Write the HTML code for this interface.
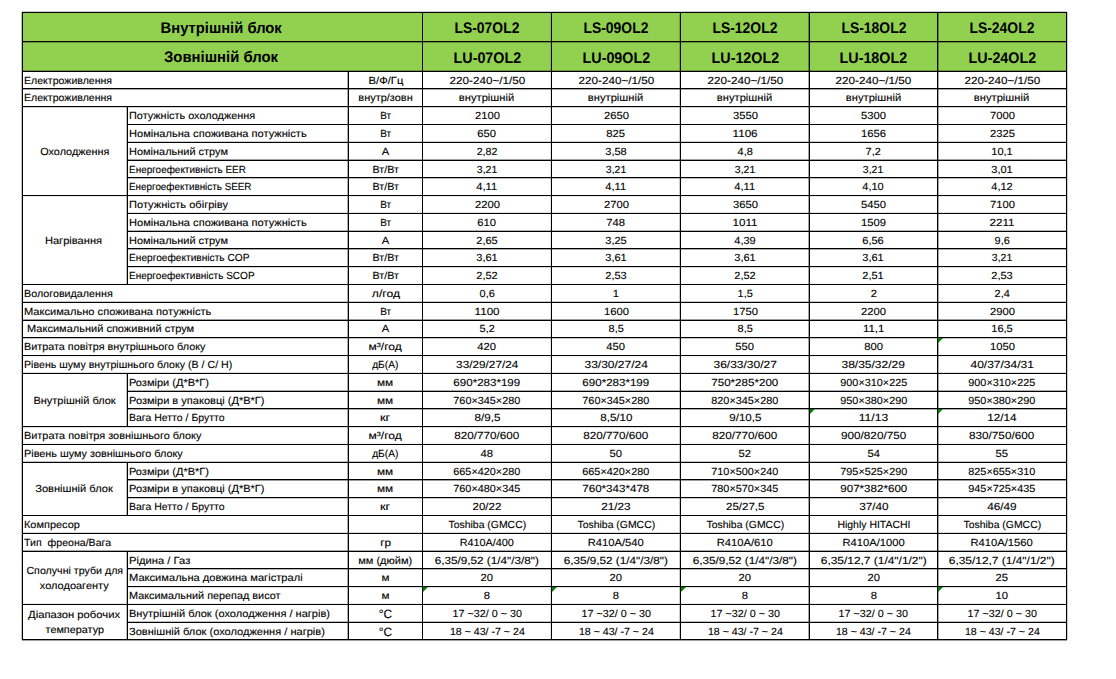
<!DOCTYPE html><html lang="uk"><head><meta charset="utf-8"><title>Технічні характеристики LS/LU-OL2</title><style>
html,body{margin:0;padding:0;background:#fff;}
body{width:1116px;height:679px;position:relative;overflow:hidden;font-family:"Liberation Sans", sans-serif;color:#000;}
.l{position:absolute;background:#000;}
.g{position:absolute;background:#92d050;}
.b{position:absolute;}
.t{position:absolute;white-space:nowrap;font-size:10.3px;line-height:0;height:0;}
.t span{display:inline-block;line-height:0;text-rendering:geometricPrecision;-webkit-text-stroke:0.12px #000;}
.h{font-size:15.4px;font-weight:bold;}
.h span{-webkit-text-stroke:0px #000;text-rendering:geometricPrecision;}
.deg{font-size:12.0px;font-family:"Liberation Sans",sans-serif;}
.c{text-align:center;}
.c span{transform-origin:50% 50%;}
.s span{transform-origin:0 50%;}
.tri{position:absolute;width:0;height:0;border-top:5px solid #008000;border-right:5px solid transparent;}
</style></head><body>
<div class="g" style="left:22px;top:12px;width:1045px;height:60px"></div>
<div class="l" style="left:22px;top:12px;width:1045px;height:1px"></div>
<div class="b" style="left:22px;top:11px;width:1045px;height:1px;background:rgba(0,0,0,0.20)"></div>
<div class="l" style="left:22px;top:41px;width:1045px;height:1px"></div>
<div class="b" style="left:22px;top:42px;width:1045px;height:1px;background:rgba(0,0,0,0.30)"></div>
<div class="l" style="left:22px;top:71px;width:1045px;height:1px"></div>
<div class="b" style="left:22px;top:70px;width:1045px;height:1px;background:rgba(0,0,0,0.27)"></div>
<div class="l" style="left:22px;top:88px;width:1045px;height:1px"></div>
<div class="b" style="left:22px;top:89px;width:1045px;height:1px;background:rgba(0,0,0,0.35)"></div>
<div class="l" style="left:22px;top:106px;width:1045px;height:1px"></div>
<div class="b" style="left:22px;top:107px;width:1045px;height:1px;background:rgba(0,0,0,0.17)"></div>
<div class="l" style="left:127px;top:124px;width:940px;height:1px"></div>
<div class="l" style="left:127px;top:142px;width:940px;height:1px"></div>
<div class="b" style="left:127px;top:141px;width:940px;height:1px;background:rgba(0,0,0,0.19)"></div>
<div class="l" style="left:127px;top:160px;width:940px;height:1px"></div>
<div class="b" style="left:127px;top:159px;width:940px;height:1px;background:rgba(0,0,0,0.37)"></div>
<div class="l" style="left:127px;top:177px;width:940px;height:1px"></div>
<div class="b" style="left:127px;top:178px;width:940px;height:1px;background:rgba(0,0,0,0.25)"></div>
<div class="l" style="left:22px;top:195px;width:1045px;height:1px"></div>
<div class="b" style="left:22px;top:196px;width:1045px;height:1px;background:rgba(0,0,0,0.07)"></div>
<div class="l" style="left:127px;top:213px;width:940px;height:1px"></div>
<div class="b" style="left:127px;top:212px;width:940px;height:1px;background:rgba(0,0,0,0.11)"></div>
<div class="l" style="left:127px;top:231px;width:940px;height:1px"></div>
<div class="b" style="left:127px;top:230px;width:940px;height:1px;background:rgba(0,0,0,0.29)"></div>
<div class="l" style="left:127px;top:248px;width:940px;height:1px"></div>
<div class="b" style="left:127px;top:249px;width:940px;height:1px;background:rgba(0,0,0,0.33)"></div>
<div class="l" style="left:127px;top:266px;width:940px;height:1px"></div>
<div class="b" style="left:127px;top:267px;width:940px;height:1px;background:rgba(0,0,0,0.15)"></div>
<div class="l" style="left:22px;top:284px;width:1045px;height:1px"></div>
<div class="b" style="left:22px;top:283px;width:1045px;height:1px;background:rgba(0,0,0,0.03)"></div>
<div class="l" style="left:22px;top:302px;width:1045px;height:1px"></div>
<div class="b" style="left:22px;top:301px;width:1045px;height:1px;background:rgba(0,0,0,0.21)"></div>
<div class="l" style="left:22px;top:320px;width:1045px;height:1px"></div>
<div class="b" style="left:22px;top:319px;width:1045px;height:1px;background:rgba(0,0,0,0.39)"></div>
<div class="l" style="left:22px;top:337px;width:1045px;height:1px"></div>
<div class="b" style="left:22px;top:338px;width:1045px;height:1px;background:rgba(0,0,0,0.23)"></div>
<div class="l" style="left:22px;top:355px;width:1045px;height:1px"></div>
<div class="b" style="left:22px;top:356px;width:1045px;height:1px;background:rgba(0,0,0,0.05)"></div>
<div class="l" style="left:22px;top:373px;width:1045px;height:1px"></div>
<div class="b" style="left:22px;top:372px;width:1045px;height:1px;background:rgba(0,0,0,0.13)"></div>
<div class="l" style="left:127px;top:391px;width:940px;height:1px"></div>
<div class="b" style="left:127px;top:390px;width:940px;height:1px;background:rgba(0,0,0,0.31)"></div>
<div class="l" style="left:127px;top:408px;width:940px;height:1px"></div>
<div class="b" style="left:127px;top:409px;width:940px;height:1px;background:rgba(0,0,0,0.31)"></div>
<div class="l" style="left:22px;top:426px;width:1045px;height:1px"></div>
<div class="b" style="left:22px;top:427px;width:1045px;height:1px;background:rgba(0,0,0,0.13)"></div>
<div class="l" style="left:22px;top:444px;width:1045px;height:1px"></div>
<div class="b" style="left:22px;top:443px;width:1045px;height:1px;background:rgba(0,0,0,0.05)"></div>
<div class="l" style="left:22px;top:462px;width:1045px;height:1px"></div>
<div class="b" style="left:22px;top:461px;width:1045px;height:1px;background:rgba(0,0,0,0.23)"></div>
<div class="l" style="left:127px;top:479px;width:940px;height:1px"></div>
<div class="b" style="left:127px;top:480px;width:940px;height:1px;background:rgba(0,0,0,0.39)"></div>
<div class="l" style="left:127px;top:497px;width:940px;height:1px"></div>
<div class="b" style="left:127px;top:498px;width:940px;height:1px;background:rgba(0,0,0,0.21)"></div>
<div class="l" style="left:22px;top:515px;width:1045px;height:1px"></div>
<div class="l" style="left:22px;top:533px;width:1045px;height:1px"></div>
<div class="b" style="left:22px;top:532px;width:1045px;height:1px;background:rgba(0,0,0,0.15)"></div>
<div class="l" style="left:22px;top:551px;width:1045px;height:1px"></div>
<div class="b" style="left:22px;top:550px;width:1045px;height:1px;background:rgba(0,0,0,0.33)"></div>
<div class="l" style="left:127px;top:568px;width:940px;height:1px"></div>
<div class="b" style="left:127px;top:569px;width:940px;height:1px;background:rgba(0,0,0,0.29)"></div>
<div class="l" style="left:127px;top:586px;width:940px;height:1px"></div>
<div class="b" style="left:127px;top:587px;width:940px;height:1px;background:rgba(0,0,0,0.11)"></div>
<div class="l" style="left:22px;top:604px;width:1045px;height:1px"></div>
<div class="b" style="left:22px;top:603px;width:1045px;height:1px;background:rgba(0,0,0,0.07)"></div>
<div class="l" style="left:127px;top:622px;width:940px;height:1px"></div>
<div class="b" style="left:127px;top:621px;width:940px;height:1px;background:rgba(0,0,0,0.25)"></div>
<div class="l" style="left:22px;top:639px;width:1045px;height:1px"></div>
<div class="b" style="left:22px;top:640px;width:1045px;height:1px;background:rgba(0,0,0,0.37)"></div>
<div class="l" style="left:22px;top:12px;width:1px;height:628px"></div>
<div class="b" style="left:21px;top:12px;width:1px;height:628px;background:rgba(0,0,0,0.25)"></div>
<div class="l" style="left:1066px;top:12px;width:1px;height:628px"></div>
<div class="b" style="left:1067px;top:12px;width:1px;height:628px;background:rgba(0,0,0,0.20)"></div>
<div class="l" style="left:422px;top:12px;width:1px;height:628px"></div>
<div class="l" style="left:551px;top:12px;width:1px;height:628px"></div>
<div class="b" style="left:550px;top:12px;width:1px;height:628px;background:rgba(0,0,0,0.10)"></div>
<div class="l" style="left:680px;top:12px;width:1px;height:628px"></div>
<div class="b" style="left:679px;top:12px;width:1px;height:628px;background:rgba(0,0,0,0.20)"></div>
<div class="l" style="left:809px;top:12px;width:1px;height:628px"></div>
<div class="b" style="left:808px;top:12px;width:1px;height:628px;background:rgba(0,0,0,0.35)"></div>
<div class="l" style="left:937px;top:12px;width:1px;height:628px"></div>
<div class="b" style="left:938px;top:12px;width:1px;height:628px;background:rgba(0,0,0,0.35)"></div>
<div class="l" style="left:348px;top:71px;width:1px;height:569px"></div>
<div class="b" style="left:347px;top:71px;width:1px;height:569px;background:rgba(0,0,0,0.30)"></div>
<div class="l" style="left:127px;top:106px;width:1px;height:90px"></div>
<div class="b" style="left:126px;top:106px;width:1px;height:90px;background:rgba(0,0,0,0.25)"></div>
<div class="l" style="left:127px;top:195px;width:1px;height:90px"></div>
<div class="b" style="left:126px;top:195px;width:1px;height:90px;background:rgba(0,0,0,0.25)"></div>
<div class="l" style="left:127px;top:373px;width:1px;height:54px"></div>
<div class="b" style="left:126px;top:373px;width:1px;height:54px;background:rgba(0,0,0,0.25)"></div>
<div class="l" style="left:127px;top:462px;width:1px;height:54px"></div>
<div class="b" style="left:126px;top:462px;width:1px;height:54px;background:rgba(0,0,0,0.25)"></div>
<div class="l" style="left:127px;top:551px;width:1px;height:54px"></div>
<div class="b" style="left:126px;top:551px;width:1px;height:54px;background:rgba(0,0,0,0.25)"></div>
<div class="l" style="left:127px;top:604px;width:1px;height:36px"></div>
<div class="b" style="left:126px;top:604px;width:1px;height:36px;background:rgba(0,0,0,0.25)"></div>
<!-- head -->
<div class="t c h" style="left:221.10px;top:27.96px;width:0;"><div style="position:absolute;left:-300px;width:600px;text-align:center"><span style="transform:scaleX(0.9595)">Внутрішній блок</span></div></div>
<div class="t c h" style="left:221.10px;top:56.86px;width:0;"><div style="position:absolute;left:-300px;width:600px;text-align:center"><span style="transform:scaleX(0.9660)">Зовнішній блок</span></div></div>
<div class="t c h" style="left:487.00px;top:27.96px;width:0;"><div style="position:absolute;left:-300px;width:600px;text-align:center"><span style="transform:scaleX(0.9033)">LS-07OL2</span></div></div>
<div class="t c h" style="left:487.00px;top:57.86px;width:0;"><div style="position:absolute;left:-300px;width:600px;text-align:center"><span style="transform:scaleX(0.9284)">LU-07OL2</span></div></div>
<div class="t c h" style="left:616.00px;top:27.96px;width:0;"><div style="position:absolute;left:-300px;width:600px;text-align:center"><span style="transform:scaleX(0.9033)">LS-09OL2</span></div></div>
<div class="t c h" style="left:616.00px;top:57.86px;width:0;"><div style="position:absolute;left:-300px;width:600px;text-align:center"><span style="transform:scaleX(0.9284)">LU-09OL2</span></div></div>
<div class="t c h" style="left:745.00px;top:27.96px;width:0;"><div style="position:absolute;left:-300px;width:600px;text-align:center"><span style="transform:scaleX(0.9033)">LS-12OL2</span></div></div>
<div class="t c h" style="left:745.00px;top:57.86px;width:0;"><div style="position:absolute;left:-300px;width:600px;text-align:center"><span style="transform:scaleX(0.9284)">LU-12OL2</span></div></div>
<div class="t c h" style="left:873.50px;top:27.96px;width:0;"><div style="position:absolute;left:-300px;width:600px;text-align:center"><span style="transform:scaleX(0.9033)">LS-18OL2</span></div></div>
<div class="t c h" style="left:873.50px;top:57.86px;width:0;"><div style="position:absolute;left:-300px;width:600px;text-align:center"><span style="transform:scaleX(0.9284)">LU-18OL2</span></div></div>
<div class="t c h" style="left:1002.00px;top:27.96px;width:0;"><div style="position:absolute;left:-300px;width:600px;text-align:center"><span style="transform:scaleX(0.9033)">LS-24OL2</span></div></div>
<div class="t c h" style="left:1002.00px;top:57.86px;width:0;"><div style="position:absolute;left:-300px;width:600px;text-align:center"><span style="transform:scaleX(0.9284)">LU-24OL2</span></div></div>
<div class="t s " style="left:24.00px;top:80.63px;"><span style="transform:scaleX(1.0263)">Електроживлення</span></div>
<div class="t c " style="left:385.50px;top:80.63px;width:0;"><div style="position:absolute;left:-300px;width:600px;text-align:center"><span style="transform:scaleX(1.0907)">В/Ф/Гц</span></div></div>
<div class="t c " style="left:487.00px;top:80.63px;width:0;"><div style="position:absolute;left:-300px;width:600px;text-align:center"><span style="transform:scaleX(1.1346)">220-240~/1/50</span></div></div>
<div class="t c " style="left:616.00px;top:80.63px;width:0;"><div style="position:absolute;left:-300px;width:600px;text-align:center"><span style="transform:scaleX(1.1346)">220-240~/1/50</span></div></div>
<div class="t c " style="left:745.00px;top:80.63px;width:0;"><div style="position:absolute;left:-300px;width:600px;text-align:center"><span style="transform:scaleX(1.1346)">220-240~/1/50</span></div></div>
<div class="t c " style="left:873.50px;top:80.63px;width:0;"><div style="position:absolute;left:-300px;width:600px;text-align:center"><span style="transform:scaleX(1.1346)">220-240~/1/50</span></div></div>
<div class="t c " style="left:1002.00px;top:80.63px;width:0;"><div style="position:absolute;left:-300px;width:600px;text-align:center"><span style="transform:scaleX(1.1346)">220-240~/1/50</span></div></div>
<div class="t s " style="left:24.00px;top:98.40px;"><span style="transform:scaleX(1.0263)">Електроживлення</span></div>
<div class="t c " style="left:385.50px;top:98.40px;width:0;"><div style="position:absolute;left:-300px;width:600px;text-align:center"><span style="transform:scaleX(1.0644)">внутр/зовн</span></div></div>
<div class="t c " style="left:487.00px;top:98.40px;width:0;"><div style="position:absolute;left:-300px;width:600px;text-align:center"><span style="transform:scaleX(1.0836)">внутрішній</span></div></div>
<div class="t c " style="left:616.00px;top:98.40px;width:0;"><div style="position:absolute;left:-300px;width:600px;text-align:center"><span style="transform:scaleX(1.0836)">внутрішній</span></div></div>
<div class="t c " style="left:745.00px;top:98.40px;width:0;"><div style="position:absolute;left:-300px;width:600px;text-align:center"><span style="transform:scaleX(1.0836)">внутрішній</span></div></div>
<div class="t c " style="left:873.50px;top:98.40px;width:0;"><div style="position:absolute;left:-300px;width:600px;text-align:center"><span style="transform:scaleX(1.0836)">внутрішній</span></div></div>
<div class="t c " style="left:1002.00px;top:98.40px;width:0;"><div style="position:absolute;left:-300px;width:600px;text-align:center"><span style="transform:scaleX(1.0836)">внутрішній</span></div></div>
<div class="t s " style="left:129.00px;top:116.18px;"><span style="transform:scaleX(1.0579)">Потужність охолодження</span></div>
<div class="t c " style="left:385.50px;top:116.18px;width:0;"><div style="position:absolute;left:-300px;width:600px;text-align:center"><span style="transform:scaleX(0.9689)">Вт</span></div></div>
<div class="t c " style="left:487.00px;top:116.18px;width:0;"><div style="position:absolute;left:-300px;width:600px;text-align:center"><span style="transform:scaleX(1.0908)">2100</span></div></div>
<div class="t c " style="left:616.00px;top:116.18px;width:0;"><div style="position:absolute;left:-300px;width:600px;text-align:center"><span style="transform:scaleX(1.0908)">2650</span></div></div>
<div class="t c " style="left:745.00px;top:116.18px;width:0;"><div style="position:absolute;left:-300px;width:600px;text-align:center"><span style="transform:scaleX(1.0908)">3550</span></div></div>
<div class="t c " style="left:873.50px;top:116.18px;width:0;"><div style="position:absolute;left:-300px;width:600px;text-align:center"><span style="transform:scaleX(1.0908)">5300</span></div></div>
<div class="t c " style="left:1002.00px;top:116.18px;width:0;"><div style="position:absolute;left:-300px;width:600px;text-align:center"><span style="transform:scaleX(1.0908)">7000</span></div></div>
<div class="t s " style="left:129.00px;top:133.95px;"><span style="transform:scaleX(1.0757)">Номінальна споживана потужність</span></div>
<div class="t c " style="left:385.50px;top:133.95px;width:0;"><div style="position:absolute;left:-300px;width:600px;text-align:center"><span style="transform:scaleX(0.9689)">Вт</span></div></div>
<div class="t c " style="left:487.00px;top:133.95px;width:0;"><div style="position:absolute;left:-300px;width:600px;text-align:center"><span style="transform:scaleX(1.0911)">650</span></div></div>
<div class="t c " style="left:616.00px;top:133.95px;width:0;"><div style="position:absolute;left:-300px;width:600px;text-align:center"><span style="transform:scaleX(1.0911)">825</span></div></div>
<div class="t c " style="left:745.00px;top:133.95px;width:0;"><div style="position:absolute;left:-300px;width:600px;text-align:center"><span style="transform:scaleX(1.1285)">1106</span></div></div>
<div class="t c " style="left:873.50px;top:133.95px;width:0;"><div style="position:absolute;left:-300px;width:600px;text-align:center"><span style="transform:scaleX(1.0908)">1656</span></div></div>
<div class="t c " style="left:1002.00px;top:133.95px;width:0;"><div style="position:absolute;left:-300px;width:600px;text-align:center"><span style="transform:scaleX(1.0908)">2325</span></div></div>
<div class="t s " style="left:129.00px;top:151.73px;"><span style="transform:scaleX(1.0649)">Номінальний струм</span></div>
<div class="t c " style="left:385.50px;top:151.73px;width:0;"><div style="position:absolute;left:-300px;width:600px;text-align:center"><span style="transform:scaleX(1.0909)">А</span></div></div>
<div class="t c " style="left:487.00px;top:151.73px;width:0;"><div style="position:absolute;left:-300px;width:600px;text-align:center"><span style="transform:scaleX(1.0326)">2,82</span></div></div>
<div class="t c " style="left:616.00px;top:151.73px;width:0;"><div style="position:absolute;left:-300px;width:600px;text-align:center"><span style="transform:scaleX(1.0691)">3,58</span></div></div>
<div class="t c " style="left:745.00px;top:151.73px;width:0;"><div style="position:absolute;left:-300px;width:600px;text-align:center"><span style="transform:scaleX(1.0595)">4,8</span></div></div>
<div class="t c " style="left:873.50px;top:151.73px;width:0;"><div style="position:absolute;left:-300px;width:600px;text-align:center"><span style="transform:scaleX(1.0595)">7,2</span></div></div>
<div class="t c " style="left:1002.00px;top:151.73px;width:0;"><div style="position:absolute;left:-300px;width:600px;text-align:center"><span style="transform:scaleX(1.0691)">10,1</span></div></div>
<div class="t s " style="left:129.00px;top:169.50px;"><span style="transform:scaleX(0.9662)">Енергоефективність EER</span></div>
<div class="t c " style="left:385.50px;top:169.50px;width:0;"><div style="position:absolute;left:-300px;width:600px;text-align:center"><span style="transform:scaleX(1.0371)">Вт/Вт</span></div></div>
<div class="t c " style="left:487.00px;top:169.50px;width:0;"><div style="position:absolute;left:-300px;width:600px;text-align:center"><span style="transform:scaleX(1.0176)">3,21</span></div></div>
<div class="t c " style="left:616.00px;top:169.50px;width:0;"><div style="position:absolute;left:-300px;width:600px;text-align:center"><span style="transform:scaleX(1.0176)">3,21</span></div></div>
<div class="t c " style="left:745.00px;top:169.50px;width:0;"><div style="position:absolute;left:-300px;width:600px;text-align:center"><span style="transform:scaleX(1.0176)">3,21</span></div></div>
<div class="t c " style="left:873.50px;top:169.50px;width:0;"><div style="position:absolute;left:-300px;width:600px;text-align:center"><span style="transform:scaleX(1.0176)">3,21</span></div></div>
<div class="t c " style="left:1002.00px;top:169.50px;width:0;"><div style="position:absolute;left:-300px;width:600px;text-align:center"><span style="transform:scaleX(1.0691)">3,01</span></div></div>
<div class="t s " style="left:129.00px;top:187.28px;"><span style="transform:scaleX(0.9581)">Енергоефективність SEER</span></div>
<div class="t c " style="left:385.50px;top:187.28px;width:0;"><div style="position:absolute;left:-300px;width:600px;text-align:center"><span style="transform:scaleX(1.0371)">Вт/Вт</span></div></div>
<div class="t c " style="left:487.00px;top:187.28px;width:0;"><div style="position:absolute;left:-300px;width:600px;text-align:center"><span style="transform:scaleX(1.0840)">4,11</span></div></div>
<div class="t c " style="left:616.00px;top:187.28px;width:0;"><div style="position:absolute;left:-300px;width:600px;text-align:center"><span style="transform:scaleX(1.0840)">4,11</span></div></div>
<div class="t c " style="left:745.00px;top:187.28px;width:0;"><div style="position:absolute;left:-300px;width:600px;text-align:center"><span style="transform:scaleX(1.0840)">4,11</span></div></div>
<div class="t c " style="left:873.50px;top:187.28px;width:0;"><div style="position:absolute;left:-300px;width:600px;text-align:center"><span style="transform:scaleX(1.0691)">4,10</span></div></div>
<div class="t c " style="left:1002.00px;top:187.28px;width:0;"><div style="position:absolute;left:-300px;width:600px;text-align:center"><span style="transform:scaleX(1.0691)">4,12</span></div></div>
<div class="t s " style="left:129.00px;top:205.05px;"><span style="transform:scaleX(1.0757)">Потужність обігріву</span></div>
<div class="t c " style="left:385.50px;top:205.05px;width:0;"><div style="position:absolute;left:-300px;width:600px;text-align:center"><span style="transform:scaleX(0.9689)">Вт</span></div></div>
<div class="t c " style="left:487.00px;top:205.05px;width:0;"><div style="position:absolute;left:-300px;width:600px;text-align:center"><span style="transform:scaleX(1.0908)">2200</span></div></div>
<div class="t c " style="left:616.00px;top:205.05px;width:0;"><div style="position:absolute;left:-300px;width:600px;text-align:center"><span style="transform:scaleX(1.0908)">2700</span></div></div>
<div class="t c " style="left:745.00px;top:205.05px;width:0;"><div style="position:absolute;left:-300px;width:600px;text-align:center"><span style="transform:scaleX(1.0908)">3650</span></div></div>
<div class="t c " style="left:873.50px;top:205.05px;width:0;"><div style="position:absolute;left:-300px;width:600px;text-align:center"><span style="transform:scaleX(1.0908)">5450</span></div></div>
<div class="t c " style="left:1002.00px;top:205.05px;width:0;"><div style="position:absolute;left:-300px;width:600px;text-align:center"><span style="transform:scaleX(1.0908)">7100</span></div></div>
<div class="t s " style="left:129.00px;top:222.83px;"><span style="transform:scaleX(1.0757)">Номінальна споживана потужність</span></div>
<div class="t c " style="left:385.50px;top:222.83px;width:0;"><div style="position:absolute;left:-300px;width:600px;text-align:center"><span style="transform:scaleX(0.9689)">Вт</span></div></div>
<div class="t c " style="left:487.00px;top:222.83px;width:0;"><div style="position:absolute;left:-300px;width:600px;text-align:center"><span style="transform:scaleX(1.0911)">610</span></div></div>
<div class="t c " style="left:616.00px;top:222.83px;width:0;"><div style="position:absolute;left:-300px;width:600px;text-align:center"><span style="transform:scaleX(1.0911)">748</span></div></div>
<div class="t c " style="left:745.00px;top:222.83px;width:0;"><div style="position:absolute;left:-300px;width:600px;text-align:center"><span style="transform:scaleX(1.1285)">1011</span></div></div>
<div class="t c " style="left:873.50px;top:222.83px;width:0;"><div style="position:absolute;left:-300px;width:600px;text-align:center"><span style="transform:scaleX(1.0908)">1509</span></div></div>
<div class="t c " style="left:1002.00px;top:222.83px;width:0;"><div style="position:absolute;left:-300px;width:600px;text-align:center"><span style="transform:scaleX(1.1285)">2211</span></div></div>
<div class="t s " style="left:129.00px;top:240.60px;"><span style="transform:scaleX(1.0649)">Номінальний струм</span></div>
<div class="t c " style="left:385.50px;top:240.60px;width:0;"><div style="position:absolute;left:-300px;width:600px;text-align:center"><span style="transform:scaleX(1.0909)">А</span></div></div>
<div class="t c " style="left:487.00px;top:240.60px;width:0;"><div style="position:absolute;left:-300px;width:600px;text-align:center"><span style="transform:scaleX(1.0691)">2,65</span></div></div>
<div class="t c " style="left:616.00px;top:240.60px;width:0;"><div style="position:absolute;left:-300px;width:600px;text-align:center"><span style="transform:scaleX(1.0691)">3,25</span></div></div>
<div class="t c " style="left:745.00px;top:240.60px;width:0;"><div style="position:absolute;left:-300px;width:600px;text-align:center"><span style="transform:scaleX(1.0691)">4,39</span></div></div>
<div class="t c " style="left:873.50px;top:240.60px;width:0;"><div style="position:absolute;left:-300px;width:600px;text-align:center"><span style="transform:scaleX(1.0691)">6,56</span></div></div>
<div class="t c " style="left:1002.00px;top:240.60px;width:0;"><div style="position:absolute;left:-300px;width:600px;text-align:center"><span style="transform:scaleX(1.0595)">9,6</span></div></div>
<div class="t s " style="left:129.00px;top:258.38px;"><span style="transform:scaleX(0.9859)">Енергоефективність COP</span></div>
<div class="t c " style="left:385.50px;top:258.38px;width:0;"><div style="position:absolute;left:-300px;width:600px;text-align:center"><span style="transform:scaleX(1.0371)">Вт/Вт</span></div></div>
<div class="t c " style="left:487.00px;top:258.38px;width:0;"><div style="position:absolute;left:-300px;width:600px;text-align:center"><span style="transform:scaleX(1.0691)">3,61</span></div></div>
<div class="t c " style="left:616.00px;top:258.38px;width:0;"><div style="position:absolute;left:-300px;width:600px;text-align:center"><span style="transform:scaleX(1.0691)">3,61</span></div></div>
<div class="t c " style="left:745.00px;top:258.38px;width:0;"><div style="position:absolute;left:-300px;width:600px;text-align:center"><span style="transform:scaleX(1.0691)">3,61</span></div></div>
<div class="t c " style="left:873.50px;top:258.38px;width:0;"><div style="position:absolute;left:-300px;width:600px;text-align:center"><span style="transform:scaleX(1.0691)">3,61</span></div></div>
<div class="t c " style="left:1002.00px;top:258.38px;width:0;"><div style="position:absolute;left:-300px;width:600px;text-align:center"><span style="transform:scaleX(1.0176)">3,21</span></div></div>
<div class="t s " style="left:129.00px;top:276.15px;"><span style="transform:scaleX(0.9736)">Енергоефективність SCOP</span></div>
<div class="t c " style="left:385.50px;top:276.15px;width:0;"><div style="position:absolute;left:-300px;width:600px;text-align:center"><span style="transform:scaleX(1.0371)">Вт/Вт</span></div></div>
<div class="t c " style="left:487.00px;top:276.15px;width:0;"><div style="position:absolute;left:-300px;width:600px;text-align:center"><span style="transform:scaleX(1.0691)">2,52</span></div></div>
<div class="t c " style="left:616.00px;top:276.15px;width:0;"><div style="position:absolute;left:-300px;width:600px;text-align:center"><span style="transform:scaleX(1.0691)">2,53</span></div></div>
<div class="t c " style="left:745.00px;top:276.15px;width:0;"><div style="position:absolute;left:-300px;width:600px;text-align:center"><span style="transform:scaleX(1.0691)">2,52</span></div></div>
<div class="t c " style="left:873.50px;top:276.15px;width:0;"><div style="position:absolute;left:-300px;width:600px;text-align:center"><span style="transform:scaleX(1.0691)">2,51</span></div></div>
<div class="t c " style="left:1002.00px;top:276.15px;width:0;"><div style="position:absolute;left:-300px;width:600px;text-align:center"><span style="transform:scaleX(1.0691)">2,53</span></div></div>
<div class="t s " style="left:24.00px;top:293.93px;"><span style="transform:scaleX(1.0420)">Вологовидалення</span></div>
<div class="t c " style="left:385.50px;top:293.93px;width:0;"><div style="position:absolute;left:-300px;width:600px;text-align:center"><span style="transform:scaleX(1.1788)">л/год</span></div></div>
<div class="t c " style="left:487.00px;top:293.93px;width:0;"><div style="position:absolute;left:-300px;width:600px;text-align:center"><span style="transform:scaleX(1.0595)">0,6</span></div></div>
<div class="t c " style="left:616.00px;top:293.93px;width:0;"><div style="position:absolute;left:-300px;width:600px;text-align:center"><span style="transform:scaleX(1.0901)">1</span></div></div>
<div class="t c " style="left:745.00px;top:293.93px;width:0;"><div style="position:absolute;left:-300px;width:600px;text-align:center"><span style="transform:scaleX(1.0595)">1,5</span></div></div>
<div class="t c " style="left:873.50px;top:293.93px;width:0;"><div style="position:absolute;left:-300px;width:600px;text-align:center"><span style="transform:scaleX(1.0901)">2</span></div></div>
<div class="t c " style="left:1002.00px;top:293.93px;width:0;"><div style="position:absolute;left:-300px;width:600px;text-align:center"><span style="transform:scaleX(1.0595)">2,4</span></div></div>
<div class="t s " style="left:24.00px;top:311.70px;"><span style="transform:scaleX(1.0764)">Максимально споживана потужність</span></div>
<div class="t c " style="left:385.50px;top:311.70px;width:0;"><div style="position:absolute;left:-300px;width:600px;text-align:center"><span style="transform:scaleX(0.9689)">Вт</span></div></div>
<div class="t c " style="left:487.00px;top:311.70px;width:0;"><div style="position:absolute;left:-300px;width:600px;text-align:center"><span style="transform:scaleX(1.1285)">1100</span></div></div>
<div class="t c " style="left:616.00px;top:311.70px;width:0;"><div style="position:absolute;left:-300px;width:600px;text-align:center"><span style="transform:scaleX(1.0908)">1600</span></div></div>
<div class="t c " style="left:745.00px;top:311.70px;width:0;"><div style="position:absolute;left:-300px;width:600px;text-align:center"><span style="transform:scaleX(1.0908)">1750</span></div></div>
<div class="t c " style="left:873.50px;top:311.70px;width:0;"><div style="position:absolute;left:-300px;width:600px;text-align:center"><span style="transform:scaleX(1.0908)">2200</span></div></div>
<div class="t c " style="left:1002.00px;top:311.70px;width:0;"><div style="position:absolute;left:-300px;width:600px;text-align:center"><span style="transform:scaleX(1.0908)">2900</span></div></div>
<div class="t s " style="left:24.00px;top:329.48px;"><span style="transform:scaleX(1.0696)"> Максимальний споживний струм</span></div>
<div class="t c " style="left:385.50px;top:329.48px;width:0;"><div style="position:absolute;left:-300px;width:600px;text-align:center"><span style="transform:scaleX(1.0909)">А</span></div></div>
<div class="t c " style="left:487.00px;top:329.48px;width:0;"><div style="position:absolute;left:-300px;width:600px;text-align:center"><span style="transform:scaleX(1.0595)">5,2</span></div></div>
<div class="t c " style="left:616.00px;top:329.48px;width:0;"><div style="position:absolute;left:-300px;width:600px;text-align:center"><span style="transform:scaleX(1.0595)">8,5</span></div></div>
<div class="t c " style="left:745.00px;top:329.48px;width:0;"><div style="position:absolute;left:-300px;width:600px;text-align:center"><span style="transform:scaleX(1.0595)">8,5</span></div></div>
<div class="t c " style="left:873.50px;top:329.48px;width:0;"><div style="position:absolute;left:-300px;width:600px;text-align:center"><span style="transform:scaleX(1.1115)">11,1</span></div></div>
<div class="t c " style="left:1002.00px;top:329.48px;width:0;"><div style="position:absolute;left:-300px;width:600px;text-align:center"><span style="transform:scaleX(1.0691)">16,5</span></div></div>
<div class="t s " style="left:24.00px;top:347.25px;"><span style="transform:scaleX(1.0502)">Витрата повітря внутрішнього блоку</span></div>
<div class="t c " style="left:385.50px;top:347.25px;width:0;"><div style="position:absolute;left:-300px;width:600px;text-align:center"><span style="transform:scaleX(1.1716)">м³/год</span></div></div>
<div class="t c " style="left:487.00px;top:347.25px;width:0;"><div style="position:absolute;left:-300px;width:600px;text-align:center"><span style="transform:scaleX(1.0911)">420</span></div></div>
<div class="t c " style="left:616.00px;top:347.25px;width:0;"><div style="position:absolute;left:-300px;width:600px;text-align:center"><span style="transform:scaleX(1.0911)">450</span></div></div>
<div class="t c " style="left:745.00px;top:347.25px;width:0;"><div style="position:absolute;left:-300px;width:600px;text-align:center"><span style="transform:scaleX(1.0911)">550</span></div></div>
<div class="t c " style="left:873.50px;top:347.25px;width:0;"><div style="position:absolute;left:-300px;width:600px;text-align:center"><span style="transform:scaleX(1.0911)">800</span></div></div>
<div class="t c " style="left:1002.00px;top:347.25px;width:0;"><div style="position:absolute;left:-300px;width:600px;text-align:center"><span style="transform:scaleX(1.0908)">1050</span></div></div>
<div class="t s " style="left:24.00px;top:365.03px;"><span style="transform:scaleX(1.0329)">Рівень шуму внутрішнього блоку (В / С/ Н)</span></div>
<div class="t c " style="left:385.50px;top:365.03px;width:0;"><div style="position:absolute;left:-300px;width:600px;text-align:center"><span style="transform:scaleX(0.9887)">дБ(А)</span></div></div>
<div class="t c " style="left:487.00px;top:365.03px;width:0;"><div style="position:absolute;left:-300px;width:600px;text-align:center"><span style="transform:scaleX(1.1433)">33/29/27/24</span></div></div>
<div class="t c " style="left:616.00px;top:365.03px;width:0;"><div style="position:absolute;left:-300px;width:600px;text-align:center"><span style="transform:scaleX(1.1654)">33/30/27/24</span></div></div>
<div class="t c " style="left:745.00px;top:365.03px;width:0;"><div style="position:absolute;left:-300px;width:600px;text-align:center"><span style="transform:scaleX(1.1654)">36/33/30/27</span></div></div>
<div class="t c " style="left:873.50px;top:365.03px;width:0;"><div style="position:absolute;left:-300px;width:600px;text-align:center"><span style="transform:scaleX(1.1654)">38/35/32/29</span></div></div>
<div class="t c " style="left:1002.00px;top:365.03px;width:0;"><div style="position:absolute;left:-300px;width:600px;text-align:center"><span style="transform:scaleX(1.1654)">40/37/34/31</span></div></div>
<div class="t s " style="left:129.00px;top:382.80px;"><span style="transform:scaleX(1.0702)">Розміри (Д*В*Г)</span></div>
<div class="t c " style="left:385.50px;top:382.80px;width:0;"><div style="position:absolute;left:-300px;width:600px;text-align:center"><span style="transform:scaleX(1.1431)">мм</span></div></div>
<div class="t c " style="left:487.00px;top:382.80px;width:0;"><div style="position:absolute;left:-300px;width:600px;text-align:center"><span style="transform:scaleX(1.1232)">690*283*199</span></div></div>
<div class="t c " style="left:616.00px;top:382.80px;width:0;"><div style="position:absolute;left:-300px;width:600px;text-align:center"><span style="transform:scaleX(1.1232)">690*283*199</span></div></div>
<div class="t c " style="left:745.00px;top:382.80px;width:0;"><div style="position:absolute;left:-300px;width:600px;text-align:center"><span style="transform:scaleX(1.1244)">750*285*200</span></div></div>
<div class="t c " style="left:873.50px;top:382.80px;width:0;"><div style="position:absolute;left:-300px;width:600px;text-align:center"><span style="transform:scaleX(1.0534)">900×310×225</span></div></div>
<div class="t c " style="left:1002.00px;top:382.80px;width:0;"><div style="position:absolute;left:-300px;width:600px;text-align:center"><span style="transform:scaleX(1.0534)">900×310×225</span></div></div>
<div class="t s " style="left:129.00px;top:400.58px;"><span style="transform:scaleX(1.0721)">Розміри в упаковці (Д*В*Г)</span></div>
<div class="t c " style="left:385.50px;top:400.58px;width:0;"><div style="position:absolute;left:-300px;width:600px;text-align:center"><span style="transform:scaleX(1.1431)">мм</span></div></div>
<div class="t c " style="left:487.00px;top:400.58px;width:0;"><div style="position:absolute;left:-300px;width:600px;text-align:center"><span style="transform:scaleX(1.0522)">760×345×280</span></div></div>
<div class="t c " style="left:616.00px;top:400.58px;width:0;"><div style="position:absolute;left:-300px;width:600px;text-align:center"><span style="transform:scaleX(1.0522)">760×345×280</span></div></div>
<div class="t c " style="left:745.00px;top:400.58px;width:0;"><div style="position:absolute;left:-300px;width:600px;text-align:center"><span style="transform:scaleX(1.0534)">820×345×280</span></div></div>
<div class="t c " style="left:873.50px;top:400.58px;width:0;"><div style="position:absolute;left:-300px;width:600px;text-align:center"><span style="transform:scaleX(1.0534)">950×380×290</span></div></div>
<div class="t c " style="left:1002.00px;top:400.58px;width:0;"><div style="position:absolute;left:-300px;width:600px;text-align:center"><span style="transform:scaleX(1.0534)">950×380×290</span></div></div>
<div class="t s " style="left:129.00px;top:418.35px;"><span style="transform:scaleX(1.0201)">Вага Нетто / Брутто</span></div>
<div class="t c " style="left:385.50px;top:418.35px;width:0;"><div style="position:absolute;left:-300px;width:600px;text-align:center"><span style="transform:scaleX(1.2461)">кг</span></div></div>
<div class="t c " style="left:487.00px;top:418.35px;width:0;"><div style="position:absolute;left:-300px;width:600px;text-align:center"><span style="transform:scaleX(1.1263)">8/9,5</span></div></div>
<div class="t c " style="left:616.00px;top:418.35px;width:0;"><div style="position:absolute;left:-300px;width:600px;text-align:center"><span style="transform:scaleX(1.1225)">8,5/10</span></div></div>
<div class="t c " style="left:745.00px;top:418.35px;width:0;"><div style="position:absolute;left:-300px;width:600px;text-align:center"><span style="transform:scaleX(1.1225)">9/10,5</span></div></div>
<div class="t c " style="left:873.50px;top:418.35px;width:0;"><div style="position:absolute;left:-300px;width:600px;text-align:center"><span style="transform:scaleX(1.1780)">11/13</span></div></div>
<div class="t c " style="left:1002.00px;top:418.35px;width:0;"><div style="position:absolute;left:-300px;width:600px;text-align:center"><span style="transform:scaleX(1.1430)">12/14</span></div></div>
<div class="t s " style="left:24.00px;top:436.13px;"><span style="transform:scaleX(1.0587)">Витрата повітря зовнішнього блоку</span></div>
<div class="t c " style="left:385.50px;top:436.13px;width:0;"><div style="position:absolute;left:-300px;width:600px;text-align:center"><span style="transform:scaleX(1.1716)">м³/год</span></div></div>
<div class="t c " style="left:487.00px;top:436.13px;width:0;"><div style="position:absolute;left:-300px;width:600px;text-align:center"><span style="transform:scaleX(1.1351)">820/770/600</span></div></div>
<div class="t c " style="left:616.00px;top:436.13px;width:0;"><div style="position:absolute;left:-300px;width:600px;text-align:center"><span style="transform:scaleX(1.1351)">820/770/600</span></div></div>
<div class="t c " style="left:745.00px;top:436.13px;width:0;"><div style="position:absolute;left:-300px;width:600px;text-align:center"><span style="transform:scaleX(1.1351)">820/770/600</span></div></div>
<div class="t c " style="left:873.50px;top:436.13px;width:0;"><div style="position:absolute;left:-300px;width:600px;text-align:center"><span style="transform:scaleX(1.1384)">900/820/750</span></div></div>
<div class="t c " style="left:1002.00px;top:436.13px;width:0;"><div style="position:absolute;left:-300px;width:600px;text-align:center"><span style="transform:scaleX(1.1384)">830/750/600</span></div></div>
<div class="t s " style="left:24.00px;top:453.90px;"><span style="transform:scaleX(1.0542)">Рівень шуму зовнішнього блоку</span></div>
<div class="t c " style="left:385.50px;top:453.90px;width:0;"><div style="position:absolute;left:-300px;width:600px;text-align:center"><span style="transform:scaleX(0.9887)">дБ(А)</span></div></div>
<div class="t c " style="left:487.00px;top:453.90px;width:0;"><div style="position:absolute;left:-300px;width:600px;text-align:center"><span style="transform:scaleX(1.0901)">48</span></div></div>
<div class="t c " style="left:616.00px;top:453.90px;width:0;"><div style="position:absolute;left:-300px;width:600px;text-align:center"><span style="transform:scaleX(1.0901)">50</span></div></div>
<div class="t c " style="left:745.00px;top:453.90px;width:0;"><div style="position:absolute;left:-300px;width:600px;text-align:center"><span style="transform:scaleX(1.0901)">52</span></div></div>
<div class="t c " style="left:873.50px;top:453.90px;width:0;"><div style="position:absolute;left:-300px;width:600px;text-align:center"><span style="transform:scaleX(1.0901)">54</span></div></div>
<div class="t c " style="left:1002.00px;top:453.90px;width:0;"><div style="position:absolute;left:-300px;width:600px;text-align:center"><span style="transform:scaleX(1.0901)">55</span></div></div>
<div class="t s " style="left:129.00px;top:471.68px;"><span style="transform:scaleX(1.0702)">Розміри (Д*В*Г)</span></div>
<div class="t c " style="left:385.50px;top:471.68px;width:0;"><div style="position:absolute;left:-300px;width:600px;text-align:center"><span style="transform:scaleX(1.1431)">мм</span></div></div>
<div class="t c " style="left:487.00px;top:471.68px;width:0;"><div style="position:absolute;left:-300px;width:600px;text-align:center"><span style="transform:scaleX(1.0534)">665×420×280</span></div></div>
<div class="t c " style="left:616.00px;top:471.68px;width:0;"><div style="position:absolute;left:-300px;width:600px;text-align:center"><span style="transform:scaleX(1.0534)">665×420×280</span></div></div>
<div class="t c " style="left:745.00px;top:471.68px;width:0;"><div style="position:absolute;left:-300px;width:600px;text-align:center"><span style="transform:scaleX(1.0534)">710×500×240</span></div></div>
<div class="t c " style="left:873.50px;top:471.68px;width:0;"><div style="position:absolute;left:-300px;width:600px;text-align:center"><span style="transform:scaleX(1.0534)">795×525×290</span></div></div>
<div class="t c " style="left:1002.00px;top:471.68px;width:0;"><div style="position:absolute;left:-300px;width:600px;text-align:center"><span style="transform:scaleX(1.0534)">825×655×310</span></div></div>
<div class="t s " style="left:129.00px;top:489.45px;"><span style="transform:scaleX(1.0721)">Розміри в упаковці (Д*В*Г)</span></div>
<div class="t c " style="left:385.50px;top:489.45px;width:0;"><div style="position:absolute;left:-300px;width:600px;text-align:center"><span style="transform:scaleX(1.1431)">мм</span></div></div>
<div class="t c " style="left:487.00px;top:489.45px;width:0;"><div style="position:absolute;left:-300px;width:600px;text-align:center"><span style="transform:scaleX(1.0534)">760×480×345</span></div></div>
<div class="t c " style="left:616.00px;top:489.45px;width:0;"><div style="position:absolute;left:-300px;width:600px;text-align:center"><span style="transform:scaleX(1.1244)">760*343*478</span></div></div>
<div class="t c " style="left:745.00px;top:489.45px;width:0;"><div style="position:absolute;left:-300px;width:600px;text-align:center"><span style="transform:scaleX(1.0534)">780×570×345</span></div></div>
<div class="t c " style="left:873.50px;top:489.45px;width:0;"><div style="position:absolute;left:-300px;width:600px;text-align:center"><span style="transform:scaleX(1.1244)">907*382*600</span></div></div>
<div class="t c " style="left:1002.00px;top:489.45px;width:0;"><div style="position:absolute;left:-300px;width:600px;text-align:center"><span style="transform:scaleX(1.0534)">945×725×435</span></div></div>
<div class="t s " style="left:129.00px;top:507.23px;"><span style="transform:scaleX(1.0201)">Вага Нетто / Брутто</span></div>
<div class="t c " style="left:385.50px;top:507.23px;width:0;"><div style="position:absolute;left:-300px;width:600px;text-align:center"><span style="transform:scaleX(1.2461)">кг</span></div></div>
<div class="t c " style="left:487.00px;top:507.23px;width:0;"><div style="position:absolute;left:-300px;width:600px;text-align:center"><span style="transform:scaleX(1.1171)">20/22</span></div></div>
<div class="t c " style="left:616.00px;top:507.23px;width:0;"><div style="position:absolute;left:-300px;width:600px;text-align:center"><span style="transform:scaleX(1.1430)">21/23</span></div></div>
<div class="t c " style="left:745.00px;top:507.23px;width:0;"><div style="position:absolute;left:-300px;width:600px;text-align:center"><span style="transform:scaleX(1.1176)">25/27,5</span></div></div>
<div class="t c " style="left:873.50px;top:507.23px;width:0;"><div style="position:absolute;left:-300px;width:600px;text-align:center"><span style="transform:scaleX(1.1430)">37/40</span></div></div>
<div class="t c " style="left:1002.00px;top:507.23px;width:0;"><div style="position:absolute;left:-300px;width:600px;text-align:center"><span style="transform:scaleX(1.1430)">46/49</span></div></div>
<div class="t s " style="left:24.00px;top:525.00px;"><span style="transform:scaleX(1.0616)">Компресор</span></div>
<div class="t c " style="left:487.00px;top:525.00px;width:0;"><div style="position:absolute;left:-300px;width:600px;text-align:center"><span style="transform:scaleX(1.0121)">Toshiba (GMCC)</span></div></div>
<div class="t c " style="left:616.00px;top:525.00px;width:0;"><div style="position:absolute;left:-300px;width:600px;text-align:center"><span style="transform:scaleX(1.0121)">Toshiba (GMCC)</span></div></div>
<div class="t c " style="left:745.00px;top:525.00px;width:0;"><div style="position:absolute;left:-300px;width:600px;text-align:center"><span style="transform:scaleX(1.0121)">Toshiba (GMCC)</span></div></div>
<div class="t c " style="left:873.50px;top:525.00px;width:0;"><div style="position:absolute;left:-300px;width:600px;text-align:center"><span style="transform:scaleX(1.0166)">Highly HITACHI</span></div></div>
<div class="t c " style="left:1002.00px;top:525.00px;width:0;"><div style="position:absolute;left:-300px;width:600px;text-align:center"><span style="transform:scaleX(1.0121)">Toshiba (GMCC)</span></div></div>
<div class="t s " style="left:24.00px;top:542.78px;"><span style="transform:scaleX(1.0287)">Тип  фреона/Вага</span></div>
<div class="t c " style="left:385.50px;top:542.78px;width:0;"><div style="position:absolute;left:-300px;width:600px;text-align:center"><span style="transform:scaleX(1.1493)">гр</span></div></div>
<div class="t c " style="left:487.00px;top:542.78px;width:0;"><div style="position:absolute;left:-300px;width:600px;text-align:center"><span style="transform:scaleX(1.0518)">R410A/400</span></div></div>
<div class="t c " style="left:616.00px;top:542.78px;width:0;"><div style="position:absolute;left:-300px;width:600px;text-align:center"><span style="transform:scaleX(1.0889)">R410A/540</span></div></div>
<div class="t c " style="left:745.00px;top:542.78px;width:0;"><div style="position:absolute;left:-300px;width:600px;text-align:center"><span style="transform:scaleX(1.0889)">R410A/610</span></div></div>
<div class="t c " style="left:873.50px;top:542.78px;width:0;"><div style="position:absolute;left:-300px;width:600px;text-align:center"><span style="transform:scaleX(1.0904)">R410A/1000</span></div></div>
<div class="t c " style="left:1002.00px;top:542.78px;width:0;"><div style="position:absolute;left:-300px;width:600px;text-align:center"><span style="transform:scaleX(1.0904)">R410A/1560</span></div></div>
<div class="t s " style="left:129.00px;top:560.55px;"><span style="transform:scaleX(1.0898)">Рідина / Газ</span></div>
<div class="t c " style="left:385.50px;top:560.55px;width:0;"><div style="position:absolute;left:-300px;width:600px;text-align:center"><span style="transform:scaleX(1.0703)">мм (дюйм)</span></div></div>
<div class="t c " style="left:487.00px;top:560.55px;width:0;"><div style="position:absolute;left:-300px;width:600px;text-align:center"><span style="transform:scaleX(1.1392)">6,35/9,52 (1/4"/3/8")</span></div></div>
<div class="t c " style="left:616.00px;top:560.55px;width:0;"><div style="position:absolute;left:-300px;width:600px;text-align:center"><span style="transform:scaleX(1.1392)">6,35/9,52 (1/4"/3/8")</span></div></div>
<div class="t c " style="left:745.00px;top:560.55px;width:0;"><div style="position:absolute;left:-300px;width:600px;text-align:center"><span style="transform:scaleX(1.1392)">6,35/9,52 (1/4"/3/8")</span></div></div>
<div class="t c " style="left:873.50px;top:560.55px;width:0;"><div style="position:absolute;left:-300px;width:600px;text-align:center"><span style="transform:scaleX(1.1576)">6,35/12,7 (1/4"/1/2")</span></div></div>
<div class="t c " style="left:1002.00px;top:560.55px;width:0;"><div style="position:absolute;left:-300px;width:600px;text-align:center"><span style="transform:scaleX(1.1576)">6,35/12,7 (1/4"/1/2")</span></div></div>
<div class="t s " style="left:129.00px;top:578.33px;"><span style="transform:scaleX(1.0792)">Максимальна довжина магістралі</span></div>
<div class="t c " style="left:385.50px;top:578.33px;width:0;"><div style="position:absolute;left:-300px;width:600px;text-align:center"><span style="transform:scaleX(1.1278)">м</span></div></div>
<div class="t c " style="left:487.00px;top:578.33px;width:0;"><div style="position:absolute;left:-300px;width:600px;text-align:center"><span style="transform:scaleX(1.0901)">20</span></div></div>
<div class="t c " style="left:616.00px;top:578.33px;width:0;"><div style="position:absolute;left:-300px;width:600px;text-align:center"><span style="transform:scaleX(1.0901)">20</span></div></div>
<div class="t c " style="left:745.00px;top:578.33px;width:0;"><div style="position:absolute;left:-300px;width:600px;text-align:center"><span style="transform:scaleX(1.0901)">20</span></div></div>
<div class="t c " style="left:873.50px;top:578.33px;width:0;"><div style="position:absolute;left:-300px;width:600px;text-align:center"><span style="transform:scaleX(1.0901)">20</span></div></div>
<div class="t c " style="left:1002.00px;top:578.33px;width:0;"><div style="position:absolute;left:-300px;width:600px;text-align:center"><span style="transform:scaleX(1.0901)">25</span></div></div>
<div class="t s " style="left:129.00px;top:596.10px;"><span style="transform:scaleX(1.0535)">Максимальний перепад висот</span></div>
<div class="t c " style="left:385.50px;top:596.10px;width:0;"><div style="position:absolute;left:-300px;width:600px;text-align:center"><span style="transform:scaleX(1.1278)">м</span></div></div>
<div class="t c " style="left:487.00px;top:596.10px;width:0;"><div style="position:absolute;left:-300px;width:600px;text-align:center"><span style="transform:scaleX(1.0901)">8</span></div></div>
<div class="t c " style="left:616.00px;top:596.10px;width:0;"><div style="position:absolute;left:-300px;width:600px;text-align:center"><span style="transform:scaleX(1.0901)">8</span></div></div>
<div class="t c " style="left:745.00px;top:596.10px;width:0;"><div style="position:absolute;left:-300px;width:600px;text-align:center"><span style="transform:scaleX(1.0901)">8</span></div></div>
<div class="t c " style="left:873.50px;top:596.10px;width:0;"><div style="position:absolute;left:-300px;width:600px;text-align:center"><span style="transform:scaleX(1.0901)">8</span></div></div>
<div class="t c " style="left:1002.00px;top:596.10px;width:0;"><div style="position:absolute;left:-300px;width:600px;text-align:center"><span style="transform:scaleX(1.0901)">10</span></div></div>
<div class="t s " style="left:129.00px;top:613.88px;"><span style="transform:scaleX(1.0727)">Внутрішній блок (охолодження / нагрів)</span></div>
<div class="t c deg" style="left:385.50px;top:613.88px;width:0;"><div style="position:absolute;left:-300px;width:600px;text-align:center"><span>°C</span></div></div>
<div class="t c " style="left:487.00px;top:613.88px;width:0;"><div style="position:absolute;left:-300px;width:600px;text-align:center"><span style="transform:scaleX(1.0433)">17 ~32/ 0 ~ 30</span></div></div>
<div class="t c " style="left:616.00px;top:613.88px;width:0;"><div style="position:absolute;left:-300px;width:600px;text-align:center"><span style="transform:scaleX(1.0433)">17 ~32/ 0 ~ 30</span></div></div>
<div class="t c " style="left:745.00px;top:613.88px;width:0;"><div style="position:absolute;left:-300px;width:600px;text-align:center"><span style="transform:scaleX(1.0433)">17 ~32/ 0 ~ 30</span></div></div>
<div class="t c " style="left:873.50px;top:613.88px;width:0;"><div style="position:absolute;left:-300px;width:600px;text-align:center"><span style="transform:scaleX(1.0433)">17 ~32/ 0 ~ 30</span></div></div>
<div class="t c " style="left:1002.00px;top:613.88px;width:0;"><div style="position:absolute;left:-300px;width:600px;text-align:center"><span style="transform:scaleX(1.0433)">17 ~32/ 0 ~ 30</span></div></div>
<div class="t s " style="left:129.00px;top:631.65px;"><span style="transform:scaleX(1.0744)">Зовнішній блок (охолодження / нагрів)</span></div>
<div class="t c deg" style="left:385.50px;top:631.65px;width:0;"><div style="position:absolute;left:-300px;width:600px;text-align:center"><span>°C</span></div></div>
<div class="t c " style="left:487.00px;top:631.65px;width:0;"><div style="position:absolute;left:-300px;width:600px;text-align:center"><span style="transform:scaleX(1.0300)">18 ~ 43/ -7 ~ 24</span></div></div>
<div class="t c " style="left:616.00px;top:631.65px;width:0;"><div style="position:absolute;left:-300px;width:600px;text-align:center"><span style="transform:scaleX(1.0300)">18 ~ 43/ -7 ~ 24</span></div></div>
<div class="t c " style="left:745.00px;top:631.65px;width:0;"><div style="position:absolute;left:-300px;width:600px;text-align:center"><span style="transform:scaleX(1.0300)">18 ~ 43/ -7 ~ 24</span></div></div>
<div class="t c " style="left:873.50px;top:631.65px;width:0;"><div style="position:absolute;left:-300px;width:600px;text-align:center"><span style="transform:scaleX(1.0300)">18 ~ 43/ -7 ~ 24</span></div></div>
<div class="t c " style="left:1002.00px;top:631.65px;width:0;"><div style="position:absolute;left:-300px;width:600px;text-align:center"><span style="transform:scaleX(1.0300)">18 ~ 43/ -7 ~ 24</span></div></div>
<div class="t c " style="left:74.40px;top:151.73px;width:0;"><div style="position:absolute;left:-300px;width:600px;text-align:center"><span style="transform:scaleX(1.0530)">Охолодження</span></div></div>
<div class="t c " style="left:73.00px;top:240.60px;width:0;"><div style="position:absolute;left:-300px;width:600px;text-align:center"><span style="transform:scaleX(1.0799)">Нагрівання</span></div></div>
<div class="t c " style="left:74.40px;top:400.58px;width:0;"><div style="position:absolute;left:-300px;width:600px;text-align:center"><span style="transform:scaleX(1.0677)">Внутрішній блок</span></div></div>
<div class="t c " style="left:74.40px;top:489.45px;width:0;"><div style="position:absolute;left:-300px;width:600px;text-align:center"><span style="transform:scaleX(1.0773)">Зовнішній блок</span></div></div>
<div class="t c " style="left:74.40px;top:570.88px;width:0;"><div style="position:absolute;left:-300px;width:600px;text-align:center"><span style="transform:scaleX(1.0335)">Сполучні труби для</span></div></div>
<div class="t c " style="left:74.40px;top:585.58px;width:0;"><div style="position:absolute;left:-300px;width:600px;text-align:center"><span style="transform:scaleX(1.0674)">холодоагенту</span></div></div>
<div class="t c " style="left:74.40px;top:614.88px;width:0;"><div style="position:absolute;left:-300px;width:600px;text-align:center"><span style="transform:scaleX(1.0942)">Діапазон робочих</span></div></div>
<div class="t c " style="left:74.40px;top:629.88px;width:0;"><div style="position:absolute;left:-300px;width:600px;text-align:center"><span style="transform:scaleX(1.0517)">температур</span></div></div>
<div class="tri" style="left:938px;top:338px"></div>
<div class="tri" style="left:810px;top:409px"></div>
<div class="tri" style="left:938px;top:409px"></div>
<div class="tri" style="left:423px;top:587px"></div>
<div class="tri" style="left:552px;top:587px"></div>
<div class="tri" style="left:681px;top:587px"></div>
<div class="tri" style="left:938px;top:587px"></div>
</body></html>
